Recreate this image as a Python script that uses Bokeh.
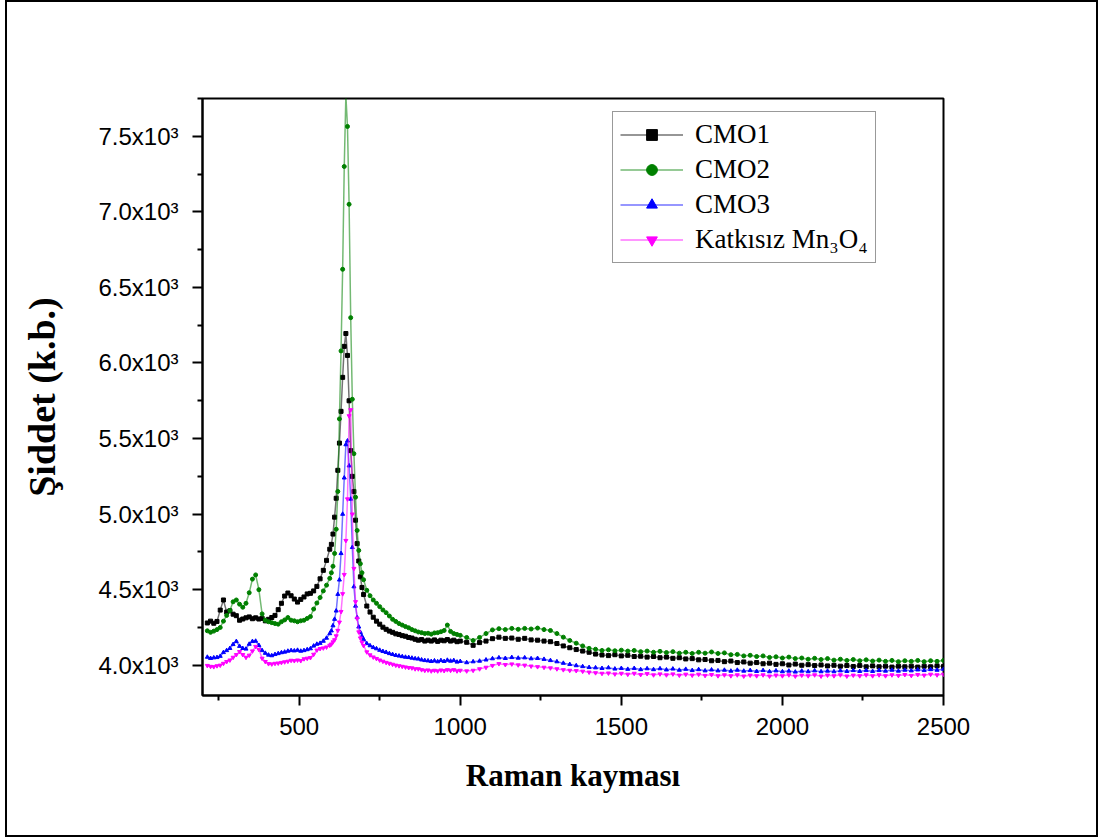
from bokeh.plotting import figure
from bokeh.models import Range1d, FixedTicker, Legend, LegendItem
from bokeh.embed import file_html
from bokeh.resources import INLINE

# Raman shift sample positions (cm^-1)
raman_shift = [
    215, 225, 235, 245, 255, 265, 275, 285, 295, 305, 315, 325, 335, 345, 355, 365, 375, 385, 395,
    405, 415, 425, 435, 445, 455, 465, 475, 485, 495, 505, 515, 525, 535, 545, 555, 565, 575, 585, 595,
    600, 605, 610, 615, 620, 625, 630, 635, 640, 645, 650, 655, 660, 665, 670, 675, 680, 685, 690, 695, 700,
    710, 720, 730, 740, 750, 760, 770, 780, 790, 800, 810, 820, 830, 840, 850, 860, 870, 880, 890, 900,
    910, 920, 930, 940, 950, 960, 970, 980, 990, 1000,
    1020, 1040, 1060, 1080, 1100, 1120, 1140, 1160, 1180, 1200, 1220, 1240, 1260, 1280, 1300,
    1320, 1340, 1360, 1380, 1400, 1420, 1440, 1460, 1480, 1500, 1520, 1540, 1560, 1580, 1600,
    1620, 1640, 1660, 1680, 1700, 1720, 1740, 1760, 1780, 1800, 1820, 1840, 1860, 1880, 1900,
    1920, 1940, 1960, 1980, 2000, 2020, 2040, 2060, 2080, 2100, 2120, 2140, 2160, 2180, 2200,
    2220, 2240, 2260, 2280, 2300, 2320, 2340, 2360, 2380, 2400, 2420, 2440, 2460, 2480, 2500,
]

cmo1 = [
    4280, 4292, 4278, 4290, 4365, 4432, 4352, 4360, 4338, 4328, 4298, 4306, 4314, 4320, 4308, 4314, 4306, 4310, 4294,
    4304, 4316, 4330, 4368, 4410, 4458, 4478, 4460, 4438, 4418, 4436, 4452, 4472, 4476, 4492, 4522, 4572, 4628, 4694, 4768,
    4800, 4868, 4980, 5105, 5290, 5470, 5680, 5905, 6110, 6195, 6050, 5750, 5420, 5250, 5150, 4960, 4805, 4690, 4585, 4515, 4468,
    4392, 4352, 4318, 4292, 4272, 4252, 4238, 4226, 4218, 4208, 4204, 4196, 4192, 4184, 4180, 4172, 4166, 4170, 4160, 4166,
    4160, 4168, 4158, 4166, 4162, 4170, 4160, 4166, 4156, 4160,
    4152, 4132, 4150, 4160, 4176, 4186, 4178, 4180, 4172, 4178, 4168, 4166, 4160, 4156, 4144,
    4128, 4116, 4104, 4094, 4086, 4074, 4068, 4064, 4070, 4062, 4066, 4058, 4060, 4054, 4058,
    4050, 4054, 4046, 4050, 4042, 4044, 4036, 4038, 4030, 4032, 4024, 4028, 4018, 4022, 4014,
    4018, 4010, 4014, 4006, 4010, 4002, 4008, 4000, 4004, 3998, 4002, 3996, 4000, 3994, 3998,
    3992, 3998, 3990, 3996, 3990, 3994, 3988, 3994, 3990, 3994, 3988, 3994, 3990, 3996, 3992,
]

cmo2 = [
    4228, 4218, 4226, 4236, 4250, 4292, 4330, 4362, 4420, 4432, 4404, 4384, 4410, 4480, 4570, 4598, 4500, 4340, 4298,
    4288, 4282, 4276, 4272, 4288, 4300, 4316, 4298, 4294, 4288, 4294, 4298, 4310, 4322, 4372, 4412, 4448, 4492, 4530, 4575,
    4612, 4655, 4740, 4900, 5150, 5630, 6080, 6620, 7300, 7770, 7565, 7050, 6300, 5760, 5400, 5112, 4892, 4760, 4672, 4612, 4566,
    4496, 4460, 4432, 4410, 4388, 4366, 4348, 4326, 4304, 4290, 4276, 4266, 4256, 4248, 4236, 4228, 4220, 4216, 4210, 4212,
    4206, 4214, 4216, 4222, 4230, 4266, 4224, 4210, 4204, 4198,
    4184, 4164, 4184, 4210, 4234, 4242, 4236, 4244, 4238, 4244, 4240, 4246, 4236, 4230, 4210,
    4186, 4164, 4146, 4128, 4112, 4106, 4098, 4102, 4096, 4100, 4094, 4098, 4090, 4094, 4086,
    4092, 4084, 4090, 4080, 4086, 4078, 4086, 4080, 4088, 4078, 4082, 4070, 4072, 4062, 4066,
    4058, 4062, 4052, 4056, 4048, 4054, 4044, 4048, 4040, 4046, 4038, 4044, 4034, 4040, 4032,
    4038, 4030, 4036, 4028, 4034, 4026, 4032, 4024, 4030, 4026, 4032, 4024, 4030, 4026, 4032,
]

cmo3 = [
    4054, 4046, 4050, 4052, 4060, 4085, 4098, 4112, 4138, 4158, 4126, 4112, 4108, 4140, 4158, 4160, 4132, 4098, 4080,
    4068, 4064, 4072, 4078, 4084, 4088, 4094, 4098, 4096, 4100, 4094, 4098, 4104, 4110, 4128, 4140, 4146, 4160, 4180, 4210,
    4228, 4262, 4305, 4360, 4470, 4565, 4740, 5000, 5240, 5460, 5485, 5320, 5100, 4780, 4520, 4392, 4316, 4254, 4218, 4192, 4172,
    4144, 4130, 4118, 4110, 4100, 4092, 4086, 4078, 4072, 4066, 4062, 4058, 4054, 4052, 4048, 4044, 4042, 4036, 4032, 4030,
    4026, 4030, 4024, 4032, 4026, 4034, 4028, 4032, 4022, 4026,
    4018, 4024, 4028, 4036, 4044, 4050, 4046, 4052, 4048, 4050, 4044, 4046, 4040, 4032, 4024,
    4014, 4006, 3998, 3992, 3986, 3984, 3980, 3984, 3976, 3980, 3974, 3980, 3972, 3978, 3972,
    3978, 3970, 3976, 3968, 3974, 3966, 3972, 3964, 3970, 3964, 3968, 3962, 3968, 3962, 3966,
    3960, 3966, 3958, 3964, 3958, 3962, 3956, 3962, 3958, 3964, 3958, 3962, 3958, 3964, 3960,
    3966, 3960, 3966, 3960, 3966, 3962, 3968, 3962, 3968, 3964, 3970, 3966, 3972, 3968, 3974,
]

mn3o4 = [
    3998, 3992, 3990, 3996, 4000, 4012, 4024, 4034, 4052, 4070, 4090, 4070, 4052, 4066, 4094, 4124, 4104, 4046, 4024,
    4010, 4008, 4012, 4014, 4018, 4022, 4026, 4032, 4030, 4034, 4030, 4042, 4046, 4050, 4072, 4100, 4110, 4114, 4120, 4132,
    4140, 4154, 4168, 4194, 4230, 4285, 4355, 4473, 4600, 4825, 5100, 5650, 5690, 5000, 4640, 4420, 4310, 4220, 4180, 4152, 4130,
    4088, 4068, 4054, 4044, 4034, 4026, 4018, 4012, 4006, 4000, 3996, 3992, 3988, 3984, 3982, 3976, 3976, 3970, 3966, 3968,
    3962, 3966, 3962, 3968, 3964, 3970, 3966, 3970, 3962, 3966,
    3962, 3966, 3976, 3986, 3998, 4010, 4004, 4008, 4002, 4000, 3994, 3990, 3986, 3982, 3976,
    3970, 3966, 3964, 3960, 3954, 3950, 3946, 3948, 3942, 3946, 3940, 3946, 3938, 3944, 3936,
    3942, 3936, 3942, 3934, 3940, 3934, 3940, 3932, 3938, 3930, 3936, 3930, 3936, 3928, 3934,
    3930, 3936, 3928, 3934, 3930, 3936, 3928, 3934, 3930, 3936, 3928, 3934, 3930, 3936, 3928,
    3934, 3930, 3936, 3930, 3936, 3930, 3936, 3932, 3938, 3932, 3938, 3934, 3940, 3936, 3940,
]

series_labels = ["CMO1", "CMO2", "CMO3", "Katkısız Mn₃O₄"]
series_colors = ["#000000", "#008000", "#0000ff", "#ff00ff"]
series_markers = ["square", "circle", "triangle", "inverted_triangle"]
series_values = [cmo1, cmo2, cmo3, mn3o4]

x_major = [500, 1000, 1500, 2000, 2500]
x_minor = [250, 750, 1250, 1750, 2250]
y_major = [4000, 4500, 5000, 5500, 6000, 6500, 7000, 7500]
y_minor = [4250, 4750, 5250, 5750, 6250, 6750, 7250, 7750]
y_tick_labels = ["4.0x10³", "4.5x10³", "5.0x10³", "5.5x10³", "6.0x10³", "6.5x10³", "7.0x10³", "7.5x10³"]

p = figure(
    frame_width=741, frame_height=597,
    x_range=Range1d(200, 2500), y_range=Range1d(3800, 7750),
    output_backend="svg", toolbar_location=None,
    min_border_left=195, min_border_right=153, min_border_top=96, min_border_bottom=140,
    background_fill_color="white", border_fill_color="white",
)
p.styles = {"border": "2px solid black", "margin-left": "5px"}
p.xgrid.visible = False
p.ygrid.visible = False
p.outline_line_color = "black"
p.outline_line_width = 2
p.outline_line_alpha = 1

items = []
for lab, col, mk, vals in zip(series_labels, series_colors, series_markers, series_values):
    r1 = p.line(raman_shift, vals, line_color=col, line_width=1.5, line_alpha=0.55)
    r2 = p.scatter(raman_shift, vals, marker=mk, size=4, fill_color=col, line_color=col)
    items.append(LegendItem(label=lab, renderers=[r1, r2]))

legend = Legend(items=items, location=(410, 432))
legend.margin = 0
legend.padding = 7
legend.spacing = 4
legend.glyph_width = 63
legend.glyph_height = 27
legend.label_height = 27
legend.label_standoff = 12
legend.label_text_font = "Liberation Serif"
legend.label_text_font_size = "27px"
legend.label_text_color = "black"
legend.border_line_color = "#333333"
legend.border_line_width = 1.2
legend.background_fill_alpha = 1
p.add_layout(legend, "center")

for ax in (p.xaxis[0], p.yaxis[0]):
    ax.axis_line_width = 2
    ax.axis_line_color = "black"
    ax.major_tick_line_width = 2
    ax.minor_tick_line_width = 2
    ax.major_tick_in = 0
    ax.major_tick_out = 10
    ax.minor_tick_in = 0
    ax.minor_tick_out = 5
    ax.major_label_text_font = "Liberation Sans"
    ax.major_label_text_font_size = "24px"
    ax.major_label_text_color = "black"
    ax.axis_label_text_font = "Liberation Serif"
    ax.axis_label_text_font_style = "bold"
    ax.axis_label_text_color = "black"

p.xaxis.axis_label_text_font_size = "31px"
p.yaxis.axis_label_text_font_size = "38px"
p.xaxis.ticker = FixedTicker(ticks=x_major, minor_ticks=x_minor)
p.yaxis.ticker = FixedTicker(ticks=y_major, minor_ticks=y_minor)
p.yaxis.major_label_overrides = {v: t for v, t in zip(y_major, y_tick_labels)}
p.xaxis.major_label_standoff = 12
p.yaxis.major_label_standoff = 14
p.xaxis.axis_label = "Raman kayması"
p.yaxis.axis_label = "Şiddet (k.b.)"
p.xaxis.axis_label_standoff = 20
p.yaxis.axis_label_standoff = 32

open("out.html", "w").write(file_html(p, INLINE))
